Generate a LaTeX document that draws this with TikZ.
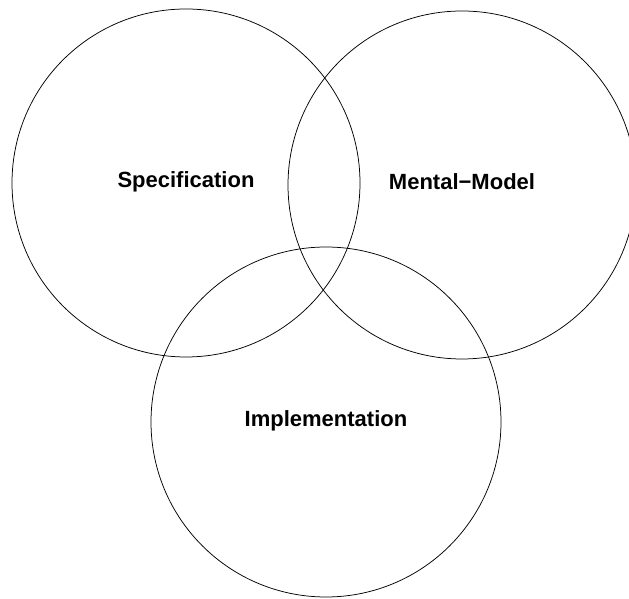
\documentclass[tikz,border=0pt]{standalone}
\usepackage{fontspec}
\setmainfont{Liberation Sans}
\usepackage{tikz}
\usetikzlibrary{shapes,positioning,calc}

\begin{document}
\begin{tikzpicture}[x=1pt, y=1pt,
    ring/.style={circle, draw, line width=0.75pt, minimum size=348pt, inner sep=0pt, text depth=6pt, font=\fontsize{22}{26}\selectfont\bfseries}]

    \useasboundingbox (0,0) rectangle (629,599);
    
    \node[ring] (spec) at (186,416) {Specification};
    \node[ring] (mental) at (462,414) {Mental\textminus Model};
    \node[ring, minimum size=350pt] (impl) at (326,177) {Implementation};
\end{tikzpicture}
\end{document}
